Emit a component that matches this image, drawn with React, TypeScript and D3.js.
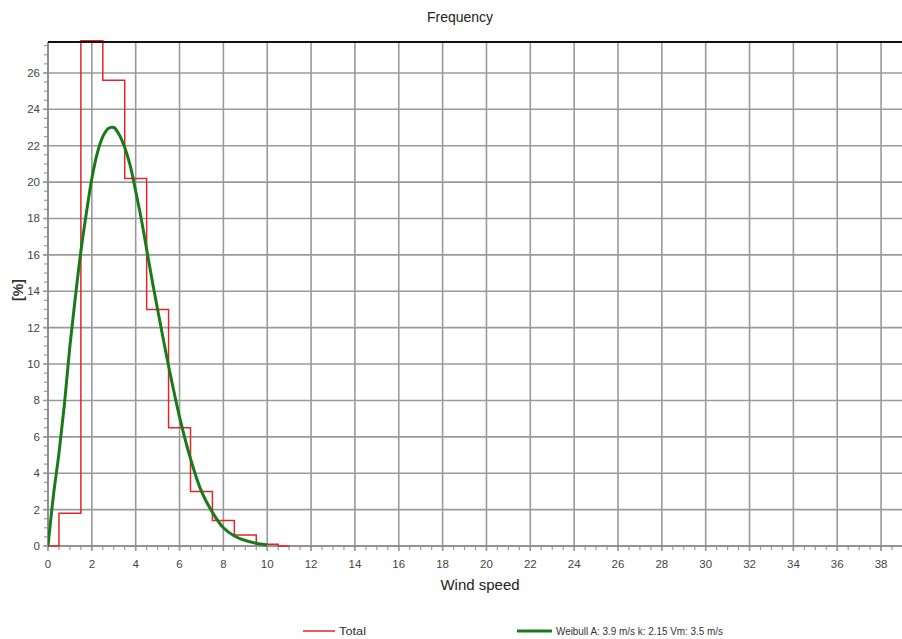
import React from "react";
import * as d3 from "d3";

// Histogram bins (wind speed bin centre, m/s) and frequency [%]
const binCenters = [0, 1, 2, 3, 4, 5, 6, 7, 8, 9, 10, 11];
const binFreq = [0, 1.8, 27.8, 25.6, 20.2, 13.0, 6.5, 3.0, 1.4, 0.6, 0.1, 0];

// Weibull fit curve
const weibullX = [0, 0.25, 0.5, 0.75, 1.0, 1.25, 1.5, 1.75, 2.0, 2.25, 2.5, 2.75, 3.0, 3.25, 3.5, 3.75, 4.0, 4.25, 4.5, 4.75, 5.0, 5.5, 6.0, 6.5, 7.0, 7.5, 8.0, 8.5, 9.0, 9.5, 10.0];
const weibullY = [0, 2.8, 5.1, 7.8, 11.0, 13.7, 16.2, 18.3, 20.2, 21.6, 22.5, 22.95, 23.0, 22.6, 21.9, 20.9, 19.5, 18.0, 16.3, 14.6, 13.0, 9.9, 7.1, 4.8, 3.0, 1.85, 1.0, 0.55, 0.3, 0.15, 0.05];

const xTicks = d3.range(0, 39, 2);
const yTicks = d3.range(0, 27, 2);
const xMinor = d3.range(0, 39.01, 0.5);
const yMinor = d3.range(0, 27.7, 0.5);

const title = "Frequency";
const xTitle = "Wind speed";
const yTitle = "[%]";
const legendTotal = "Total";
const legendWeibull = "Weibull A: 3.9 m/s k: 2.15 Vm: 3.5 m/s";

export default function App() {
  const W = 902, H = 639;
  const left = 48, right = 903, top = 42, bottom = 546;
  const x = d3.scaleLinear().domain([0, 39]).range([left, right]);
  const y = d3.scaleLinear().domain([0, 27.7]).range([bottom, top]);

  const stepLine = d3
    .line<number>()
    .x((_, i) => x(binCenters[i]))
    .y((d) => y(d))
    .curve(d3.curveStep);
  const weibullLine = d3
    .line<number>()
    .x((_, i) => x(weibullX[i]))
    .y((d) => y(d))
    .curve(d3.curveCatmullRom);

  const font = "'Liberation Sans', Arial, sans-serif";
  const grid = "#9a9a9a";

  return (
    <svg
      width={W}
      height={H}
      style={{ position: "absolute", left: 0, top: 0, background: "#fff" }}
      fontFamily={font}
    >
      <defs>
        <clipPath id="plotClip">
          <rect x={left} y={top - 2} width={right - left} height={bottom - top + 4} />
        </clipPath>
      </defs>
      <text x={460} y={22} textAnchor="middle" fontSize={14} fill="#222">
        {title}
      </text>

      {/* grid */}
      {xTicks.map((t) => (
        <line key={"gx" + t} x1={x(t)} x2={x(t)} y1={top} y2={bottom + 5} stroke={grid} strokeWidth={1.6} />
      ))}
      {yTicks.map((t) => (
        <line key={"gy" + t} x1={left - 5} x2={right} y1={y(t)} y2={y(t)} stroke={grid} strokeWidth={1.6} />
      ))}
      {/* minor ticks */}
      {xMinor.map((t) => (
        <line key={"mx" + t} x1={x(t)} x2={x(t)} y1={bottom} y2={bottom + 4} stroke={grid} strokeWidth={1.2} />
      ))}
      {yMinor.map((t) => (
        <line key={"my" + t} x1={left - 4} x2={left} y1={y(t)} y2={y(t)} stroke={grid} strokeWidth={1.2} />
      ))}
      <line x1={left} x2={left} y1={top} y2={bottom} stroke="#888" strokeWidth={1.6} />
      <line x1={left} x2={right} y1={bottom} y2={bottom} stroke="#888" strokeWidth={1.6} />

      {/* tick labels */}
      {xTicks.map((t) => (
        <text key={"lx" + t} x={x(t)} y={568} textAnchor="middle" fontSize={11.5} fill="#444">
          {t}
        </text>
      ))}
      {yTicks.map((t) => (
        <text key={"ly" + t} x={40} y={y(t) + 4} textAnchor="end" fontSize={11.5} fill="#444">
          {t}
        </text>
      ))}

      <g clipPath="url(#plotClip)">
        <path d={stepLine(binFreq) || ""} fill="none" stroke="#e0262b" strokeWidth={1.5} />
        <path d={weibullLine(weibullY) || ""} fill="none" stroke="#1a7a1a" strokeWidth={3} strokeLinejoin="round" />
      </g>

      <line x1={left} x2={W} y1={top} y2={top} stroke="#111" strokeWidth={2} />

      <text x={480} y={590} textAnchor="middle" fontSize={15} fill="#222">
        {xTitle}
      </text>
      <text
        transform={`translate(23, ${290}) rotate(-90)`}
        textAnchor="middle"
        fontSize={14}
        fontWeight="bold"
        fill="#333"
      >
        {yTitle}
      </text>

      {/* legend */}
      <line x1={303} x2={335} y1={631} y2={631} stroke="#e0262b" strokeWidth={1.5} />
      <text x={339} y={635} fontSize={11} fill="#333" textLength={27} lengthAdjust="spacingAndGlyphs">
        {legendTotal}
      </text>
      <line x1={517} x2={552} y1={631} y2={631} stroke="#1a7a1a" strokeWidth={3} />
      <text x={556} y={635} fontSize={11} fill="#333" textLength={167} lengthAdjust="spacingAndGlyphs">
        {legendWeibull}
      </text>
    </svg>
  );
}
